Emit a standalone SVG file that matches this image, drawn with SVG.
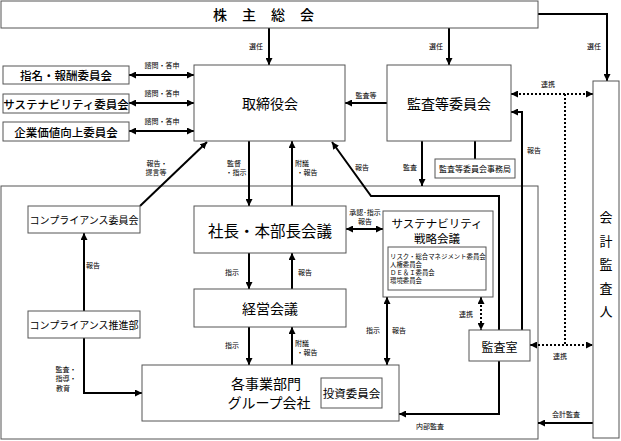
<svg xmlns="http://www.w3.org/2000/svg" width="621" height="441" viewBox="0 0 621 441">
<style>
.box{fill:#fff;stroke:#555;stroke-width:1}
.c{fill:none;stroke:#000;stroke-width:2}
.d{stroke-dasharray:2 2}
text{font-family:"Noto Sans CJK JP","Noto Sans",sans-serif;text-anchor:middle;dominant-baseline:central;fill:#000}
.l{font-size:7px}
.m{font-size:11.5px;font-weight:500}
.b{font-size:14px}
</style>
<defs>
<marker id="ah" viewBox="0 0 10 10" refX="10" refY="5" markerWidth="7" markerHeight="7" markerUnits="userSpaceOnUse" orient="auto-start-reverse"><path d="M0,0 L10,5 L0,10 z" fill="#000"/></marker>
</defs>
<rect width="621" height="441" fill="#fff"/>
<g id="company"><rect class="box" x="1" y="186" width="537" height="253"/></g>
<g id="connectors">
<path class="c" d="M269,28V65" marker-end="url(#ah)"/>
<path class="c" d="M449,28V65" marker-end="url(#ah)"/>
<path class="c" d="M538,14H607V81" marker-end="url(#ah)"/>
<path class="c" d="M129,75H194" marker-start="url(#ah)" marker-end="url(#ah)"/>
<path class="c" d="M129,103H194" marker-start="url(#ah)" marker-end="url(#ah)"/>
<path class="c" d="M129,131H194" marker-start="url(#ah)" marker-end="url(#ah)"/>
<path class="c" d="M387,103H345" marker-end="url(#ah)"/>
<path class="c d" d="M511,94H593" marker-start="url(#ah)" marker-end="url(#ah)"/>
<path class="c d" d="M565,94V345"/>
<path class="c d" d="M530,345H593" marker-start="url(#ah)" marker-end="url(#ah)"/>
<path class="c" d="M522,330V112H511" marker-end="url(#ah)"/>
<path class="c" d="M422,141V186" marker-end="url(#ah)"/>
<path class="c" d="M475,141V159"/>
<path class="c" d="M499,330V196H371L332,142" marker-end="url(#ah)"/>
<path class="c" d="M499,361V414H399" marker-end="url(#ah)"/>
<path class="c" d="M593,423H538" marker-end="url(#ah)"/>
<path class="c" d="M140,206L207,142" marker-end="url(#ah)"/>
<path class="c" d="M249,141V206" marker-end="url(#ah)"/>
<path class="c" d="M292,206V141" marker-end="url(#ah)"/>
<path class="c" d="M346,229H383" marker-start="url(#ah)" marker-end="url(#ah)"/>
<path class="c" d="M249,253V289" marker-end="url(#ah)"/>
<path class="c" d="M292,289V253" marker-end="url(#ah)"/>
<path class="c" d="M249,327V365" marker-end="url(#ah)"/>
<path class="c" d="M292,365V327" marker-end="url(#ah)"/>
<path class="c" d="M387,297V365" marker-start="url(#ah)" marker-end="url(#ah)"/>
<path class="c d" d="M481,297V330" marker-start="url(#ah)" marker-end="url(#ah)"/>
<path class="c" d="M84,311V233" marker-end="url(#ah)"/>
<path class="c" d="M84,338V393H142" marker-end="url(#ah)"/>
</g>
<g id="labels">
<text class="l" x="256" y="46">選任</text>
<text class="l" x="436" y="46">選任</text>
<text class="l" x="594" y="46">選任</text>
<text class="l" x="162" y="65">諮問・答申</text>
<text class="l" x="162" y="93">諮問・答申</text>
<text class="l" x="162" y="121">諮問・答申</text>
<text class="l" x="366" y="95">監査等</text>
<text class="l" x="548" y="84">連携</text>
<text class="l" x="534" y="150">報告</text>
<text class="l" x="410" y="167">監査</text>
<text class="l" x="362" y="167">報告</text>
<text class="l" x="157" y="163">報告・</text>
<text class="l" x="156" y="172">提言等</text>
<text class="l" x="234" y="163">監督</text>
<text class="l" x="236" y="172">・指示</text>
<text class="l" x="302" y="163">附議</text>
<text class="l" x="307" y="172">・報告</text>
<text class="l" x="365" y="212">承認･指示</text>
<text class="l" x="365" y="221">報告</text>
<text class="l" x="232" y="272">指示</text>
<text class="l" x="305" y="272">報告</text>
<text class="l" x="232" y="345">指示</text>
<text class="l" x="302" y="343">附議</text>
<text class="l" x="307" y="352">・報告</text>
<text class="l" x="373" y="330">指示</text>
<text class="l" x="399" y="330">報告</text>
<text class="l" x="466" y="314">連携</text>
<text class="l" x="560" y="356">連携</text>
<text class="l" x="430" y="426">内部監査</text>
<text class="l" x="566" y="414">会計監査</text>
<text class="l" x="93" y="265">報告</text>
<text class="l" x="66" y="369">監査・</text>
<text class="l" x="66" y="378">指導・</text>
<text class="l" x="63" y="388">教育</text>
</g>
<g id="shareholders"><rect class="box" x="1" y="1" width="537" height="27"/><text x="271" y="14" style="font-size:14px;font-weight:500;letter-spacing:15px">株主総会</text></g>
<g id="board"><rect class="box" x="194" y="65" width="151" height="76"/><text class="b" x="270" y="103">取締役会</text></g>
<g id="nomination"><rect class="box" x="3" y="66" width="126" height="18"/><text class="m" x="66" y="75">指名・報酬委員会</text></g>
<g id="sustainability-committee"><rect class="box" x="3" y="94" width="126" height="19"/><text class="m" x="66" y="103.5">サステナビリティ委員会</text></g>
<g id="value"><rect class="box" x="3" y="122" width="126" height="19"/><text class="m" x="66" y="131.5">企業価値向上委員会</text></g>
<g id="audit-committee"><rect class="box" x="387" y="65" width="124" height="76"/><text class="b" x="449" y="103">監査等委員会</text></g>
<g id="audit-office"><rect class="box" x="435" y="159" width="80" height="19"/><text x="475" y="168.5" style="font-size:8px">監査等委員会事務局</text></g>
<g id="accounting-auditor"><rect class="box" x="593" y="81" width="26" height="357"/>
<text x="606" y="216" style="font-size:13px">会</text><text x="606" y="240" style="font-size:13px">計</text><text x="606" y="263" style="font-size:13px">監</text><text x="606" y="287" style="font-size:13px">査</text><text x="606" y="310" style="font-size:13px">人</text></g>
<g id="compliance-committee"><rect class="box" x="28" y="206" width="112" height="27"/><text x="84" y="219.5" style="font-size:10px">コンプライアンス委員会</text></g>
<g id="compliance-dept"><rect class="box" x="28" y="311" width="112" height="27"/><text x="84" y="324.5" style="font-size:10px">コンプライアンス推進部</text></g>
<g id="president"><rect class="box" x="194" y="206" width="152" height="47"/><text x="270" y="230" style="font-size:15.5px">社長・本部長会議</text></g>
<g id="management"><rect class="box" x="194" y="289" width="152" height="38"/><text class="b" x="270" y="308">経営会議</text></g>
<g id="strategy"><rect class="box" x="383" y="211" width="110" height="86"/>
<text x="437" y="223" style="font-size:11.5px">サステナビリティ</text><text x="437" y="237.5" style="font-size:11.5px">戦略会議</text>
<rect class="box" x="388" y="247" width="98" height="43"/>
<g style="font-size:6.4px"><text x="390" y="256" style="text-anchor:start">リスク・総合マネジメント委員会</text><text x="390" y="264" style="text-anchor:start">人権委員会</text><text x="390" y="272" style="text-anchor:start">ＤＥ＆Ｉ委員会</text><text x="390" y="280" style="text-anchor:start">環境委員会</text></g></g>
<g id="internal-audit"><rect class="box" x="469" y="330" width="61" height="31"/><text x="499.5" y="346" style="font-size:12px">監査室</text></g>
<g id="business"><rect class="box" x="142" y="365" width="257" height="56"/><text x="266" y="382.5" style="font-size:14px">各事業部門</text><text x="269" y="401.5" style="font-size:14px">グループ会社</text></g>
<g id="investment"><rect class="box" x="321" y="378" width="61" height="30"/><text x="351.5" y="393" style="font-size:11.5px">投資委員会</text></g>
</svg>
